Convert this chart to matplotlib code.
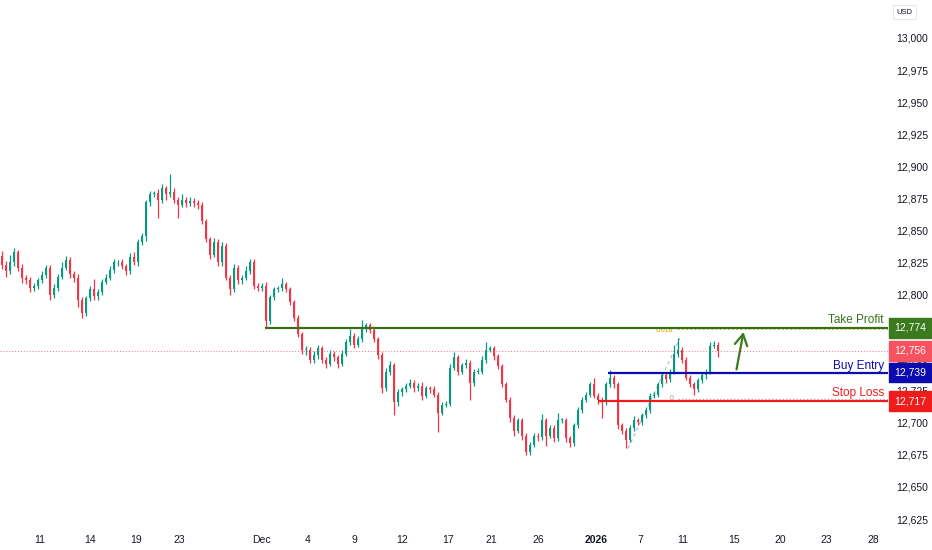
import numpy as np
import matplotlib.pyplot as plt
from matplotlib.transforms import blended_transform_factory

plt.rcParams['font.family'] = ['Liberation Sans', 'DejaVu Sans']

# candle data (one candle every ~6h), opens are previous close
first_open = 12830
closes = [
    12823, 12818, 12825, 12833, 12821, 12813, 12811, 12805, 12807, 12811, 12815, 12821, 12800, 12805, 12814, 12821, 12827, 12816, 12813, 12796,
    12786, 12797, 12804, 12799, 12802, 12810, 12813, 12819, 12825, 12825, 12822, 12818, 12829, 12825, 12841, 12846, 12872, 12878, 12879, 12874,
    12883, 12878, 12880, 12874, 12870, 12874, 12871, 12873, 12871, 12870, 12857, 12843, 12831, 12841, 12825, 12838, 12813, 12804, 12821, 12811,
    12813, 12818, 12825, 12807, 12805, 12807, 12779, 12798, 12804, 12805, 12808, 12804, 12794, 12782, 12769, 12757, 12757, 12749, 12753, 12758,
    12749, 12746, 12754, 12751, 12746, 12754, 12763, 12768, 12761, 12765, 12774, 12776, 12772, 12765, 12753, 12727, 12740, 12745, 12716, 12724,
    12726, 12729, 12731, 12727, 12729, 12721, 12727, 12726, 12722, 12708, 12714, 12715, 12743, 12751, 12740, 12745, 12747, 12731, 12740, 12740,
    12749, 12757, 12758, 12752, 12744, 12730, 12718, 12704, 12694, 12702, 12690, 12677, 12683, 12690, 12689, 12702, 12690, 12696, 12688, 12702,
    12702, 12688, 12684, 12698, 12710, 12718, 12722, 12730, 12721, 12718, 12716, 12730, 12735, 12730, 12698, 12694, 12687, 12696, 12702, 12701,
    12706, 12710, 12721, 12722, 12730, 12737, 12734, 12740, 12754, 12757, 12749, 12735, 12730, 12726, 12733, 12737, 12740, 12760, 12761, 12756,
]
wick_up = [
    4, 3, 6, 3, 2, 3, 2, 3, 2, 2, 3, 2, 2, 3, 2, 4, 3, 2, 2, 3,
    2, 2, 3, 8, 2, 2, 3, 3, 3, 2, 3, 2, 3, 4, 2, 2, 2, 3, 2, 3,
    3, 2, 14, 3, 2, 4, 2, 3, 2, 3, 2, 2, 2, 3, 2, 3, 2, 2, 3, 2,
    2, 4, 3, 3, 2, 2, 3, 2, 2, 2, 5, 2, 2, 2, 2, 2, 3, 2, 3, 3,
    2, 2, 3, 2, 2, 3, 2, 5, 2, 3, 6, 2, 2, 2, 2, 2, 3, 3, 2, 2,
    2, 2, 3, 2, 2, 3, 2, 2, 3, 2, 2, 2, 3, 4, 2, 2, 3, 2, 2, 3,
    3, 6, 2, 2, 2, 2, 2, 2, 2, 2, 2, 2, 2, 2, 2, 5, 2, 2, 2, 6,
    2, 2, 2, 2, 2, 2, 2, 2, 5, 2, 2, 2, 6, 2, 2, 2, 2, 2, 3, 2,
    2, 2, 2, 2, 2, 3, 2, 2, 7, 9, 2, 2, 2, 2, 2, 2, 2, 3, 3, 2,
]
wick_dn = [
    3, 4, 2, 3, 3, 4, 3, 3, 2, 3, 2, 2, 4, 3, 2, 2, 2, 3, 3, 6,
    4, 3, 2, 3, 3, 2, 2, 2, 2, 3, 2, 3, 2, 2, 3, 2, 4, 3, 2, 14,
    3, 4, 2, 3, 10, 2, 3, 2, 3, 3, 2, 2, 3, 2, 3, 3, 2, 4, 2, 3,
    3, 2, 2, 3, 2, 2, 5, 2, 2, 2, 2, 2, 2, 3, 2, 3, 4, 2, 2, 3,
    2, 3, 2, 3, 3, 2, 2, 2, 3, 2, 2, 3, 2, 2, 3, 4, 2, 3, 10, 3,
    3, 2, 2, 3, 2, 3, 2, 3, 2, 15, 2, 2, 2, 2, 3, 2, 2, 13, 2, 2,
    2, 2, 2, 3, 2, 2, 2, 3, 4, 2, 3, 2, 2, 2, 3, 2, 8, 2, 3, 2,
    2, 3, 3, 2, 2, 2, 2, 2, 2, 3, 12, 2, 2, 3, 3, 3, 7, 2, 2, 3,
    3, 2, 2, 2, 2, 2, 3, 2, 2, 3, 2, 2, 2, 4, 2, 2, 3, 2, 2, 5,
]

tick_pos = [9.5, 22, 33.4, 44.4, 64.75, 76.5, 88, 100, 111.5, 122.25, 134, 148.5, 159.5, 170.25, 183, 194.5, 206, 217.75]
tick_labels = ['11', '14', '19', '23', 'Dec', '4', '9', '12', '17', '21', '26', '2026', '7', '11', '15', '20', '23', '28']
price_ticks = np.arange(12625, 13001, 25)

take_profit = 12774
buy_entry = 12739
stop_loss = 12717
last_price = 12756
fib_618 = 12772.8
fib_0 = 12718.6

UP = '#089981'
DOWN = '#f23645'

opens = [first_open] + closes[:-1]
highs = [max(o, c) + w for o, c, w in zip(opens, closes, wick_up)]
lows = [min(o, c) - w for o, c, w in zip(opens, closes, wick_dn)]
idx = np.arange(len(closes))
colors = [UP if c >= o else DOWN for o, c in zip(opens, closes)]

fig = plt.figure(figsize=(9.32, 5.5), dpi=100)
ax = fig.add_axes([0, 23 / 550, 888 / 932, 527 / 550])

ax.vlines(idx, lows, highs, colors=colors, lw=0.9, zorder=2)
bottoms = [min(o, c) for o, c in zip(opens, closes)]
heights = [max(abs(c - o), 0.6) for o, c in zip(opens, closes)]
ax.bar(idx, heights, bottom=bottoms, width=0.72, color=colors, lw=0, zorder=2)

xr = 221.5
ax.set_xlim(-0.5, xr)
ax.set_ylim(12618.8, 13029.6)

# current price line
ax.axhline(last_price, color=DOWN, ls=(0, (1, 2)), lw=0.7, alpha=0.7, zorder=1)

# fib drawing
ax.plot([156.5, 169.5], [12680, 12766], ls=(0, (3, 3)), color='#b2b5be', lw=0.8, zorder=1)
ax.hlines(fib_618, 169, xr, colors='#c9b400', ls=(0, (1, 1.5)), lw=1.2, zorder=3)
ax.hlines(fib_0, 169, xr, colors='#b2b5be', ls=(0, (1, 1.5)), lw=1.0, zorder=3)
ax.text(165.5, fib_618 - 0.5, '0.618', fontsize=5, color='#c9a800', ha='center', va='center')
ax.text(167.5, fib_0 + 0.3, '0', fontsize=5, color='#9598a1', ha='center', va='center')

# trade levels
ax.hlines(take_profit, 65.75, xr, colors='#3b6e1b', lw=1.6, zorder=4)
ax.hlines(buy_entry, 151.5, xr, colors='#0b0bb0', lw=1.6, zorder=4)
ax.hlines(stop_loss, 149, xr, colors='#f01c1c', lw=1.6, zorder=4)

ax.text(220.5, 12779.8, 'Take Profit', color='#3b6e1b', fontsize=8.5, ha='right', va='center')
ax.text(220.5, 12744.5, 'Buy Entry', color='#0b0bb0', fontsize=8.5, ha='right', va='center')
ax.text(220.5, 12723.0, 'Stop Loss', color='#f01c1c', fontsize=8.5, ha='right', va='center')

ax.annotate('', xy=(185.5, 12773), xytext=(183.5, 12739.5),
            arrowprops=dict(arrowstyle='->,head_width=0.45,head_length=0.8', color='#3b7a1e', lw=1.6))

# axes styling
for s in ax.spines.values():
    s.set_visible(False)
ax.yaxis.tick_right()
ax.set_yticks(price_ticks, [f'{v:,}' for v in price_ticks])
ax.tick_params(axis='y', length=0, pad=6, labelsize=7.5, labelcolor='#131722')
ax.set_xticks(tick_pos, tick_labels)
ax.tick_params(axis='x', length=0, pad=6, labelsize=7.5, labelcolor='#131722')
for lab in ax.get_xticklabels():
    if lab.get_text() == '2026':
        lab.set_fontweight('bold')

# price tags on the right axis
trans = blended_transform_factory(ax.transAxes, ax.transData)
for val, col in [(take_profit, '#3b7a1e'), (last_price, '#f7525f'), (buy_entry, '#0b0bb0'), (stop_loss, '#f01c1c')]:
    ax.text(1.0 + 6 / 888, val, f'{val:,}', transform=trans, color='white', fontsize=7.5,
            ha='left', va='center', clip_on=False, zorder=6,
            bbox=dict(boxstyle='square,pad=0.45', fc=col, ec=col))

fig.text(0.962, 0.978, 'USD', fontsize=5.5, color='#131722', ha='left', va='center',
         bbox=dict(boxstyle='square,pad=0.5', fc='white', ec='#e0e3eb', lw=0.6))

fig.savefig('out.png', dpi=100)
